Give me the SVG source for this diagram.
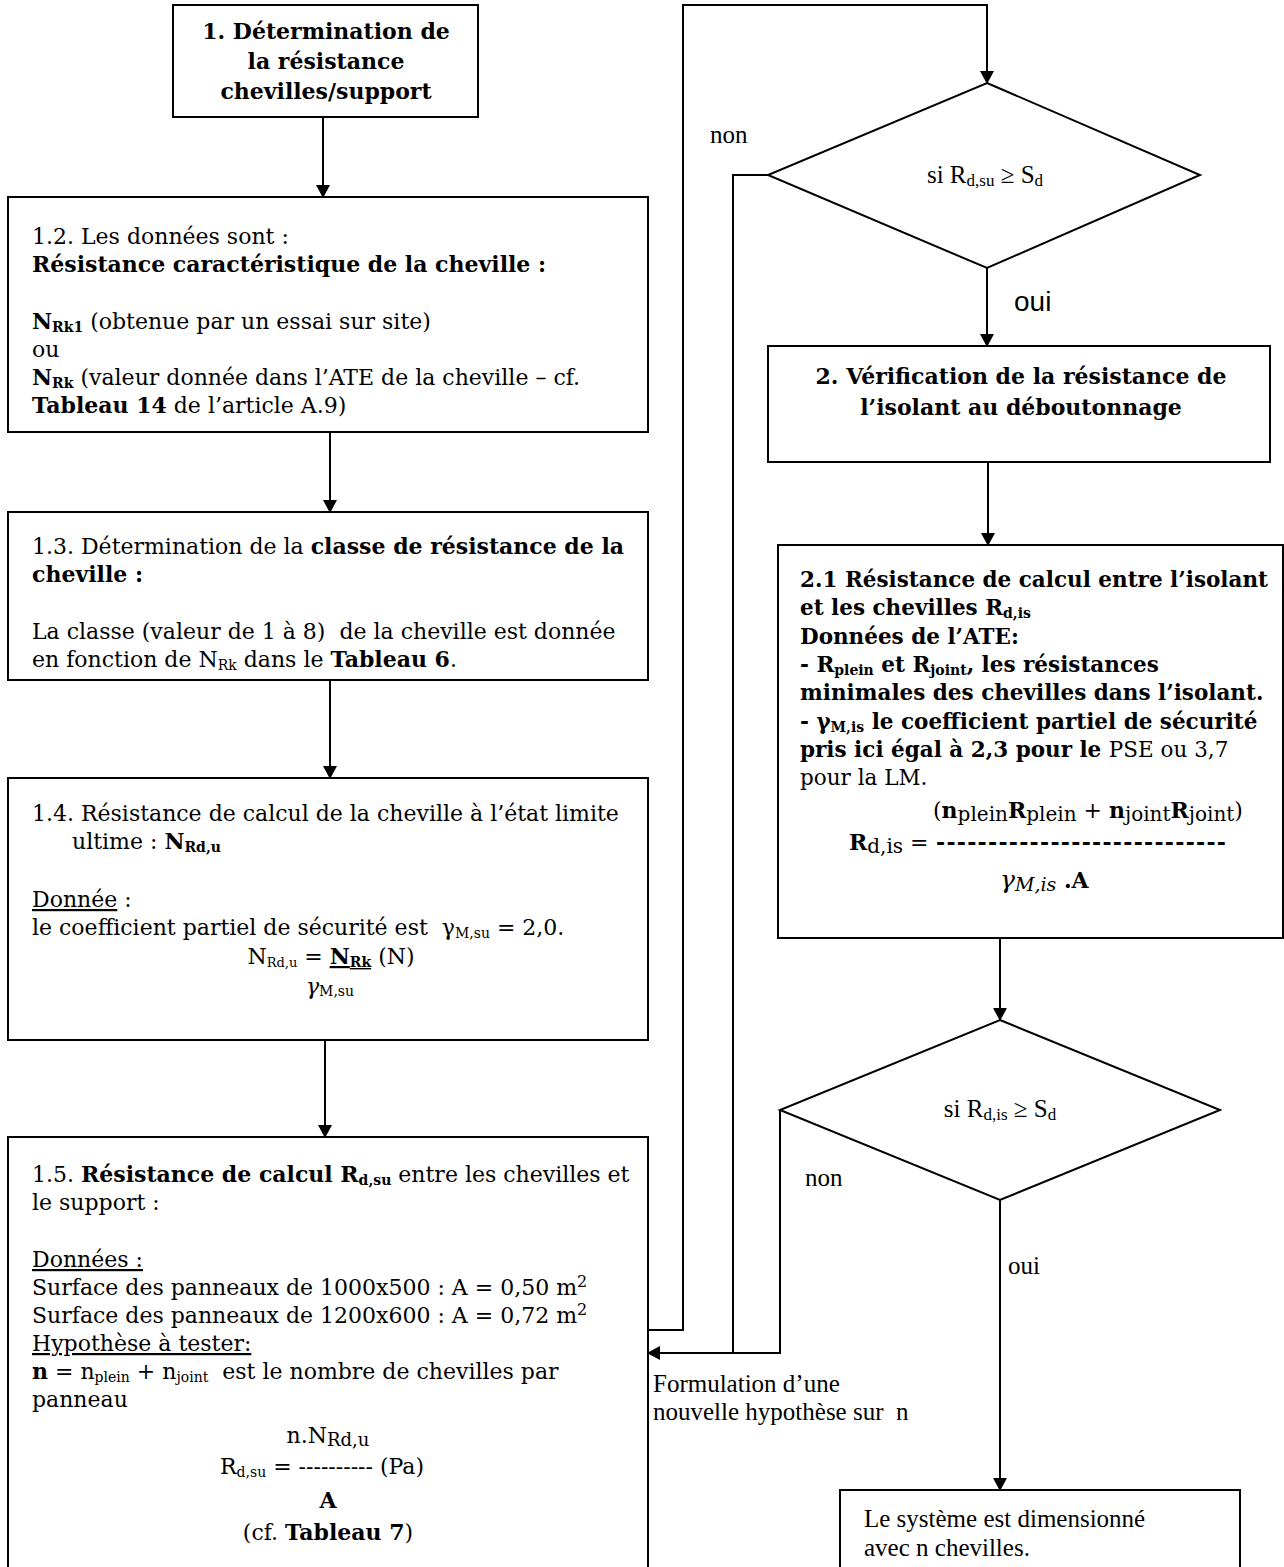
<svg xmlns="http://www.w3.org/2000/svg" width="1284" height="1567" viewBox="0 0 1284 1567">
<defs>
<marker id="ah" markerWidth="14" markerHeight="14" refX="12" refY="7" orient="auto" markerUnits="userSpaceOnUse">
<path d="M0,0 L13,7 L0,14 Z" fill="#000"/>
</marker>
<style>
.box{fill:#fff;stroke:#000;stroke-width:2}
.con{fill:none;stroke:#000;stroke-width:2}
.arr{fill:none;stroke:#000;stroke-width:2;marker-end:url(#ah)}
.t{font-family:"DejaVu Serif",serif;font-size:22px;fill:#000}
.b{font-weight:bold}
.lab{font-family:"Liberation Serif",serif;font-size:25px;fill:#000}
.sans{font-family:"Liberation Sans",sans-serif;font-size:28px;fill:#000}
.sub{font-size:14px}
.sub2{font-size:16px}
.u{text-decoration:underline}
.i{font-style:italic}
.bx{font-size:21.5px}
</style>
</defs>
<rect width="1284" height="1567" fill="#fff"/>

<g id="connectors">
<line class="arr" x1="323" y1="117" x2="323" y2="197"/>
<line class="arr" x1="330" y1="432" x2="330" y2="512"/>
<line class="arr" x1="330" y1="680" x2="330" y2="778"/>
<line class="arr" x1="325" y1="1040" x2="325" y2="1137"/>
<polyline class="arr" points="648,1330 683,1330 683,5 987,5 987,83"/>
<polyline class="con" points="768,175 733,175 733,1353"/>
<line class="arr" x1="987" y1="268" x2="987" y2="346"/>
<line class="arr" x1="988" y1="462" x2="988" y2="545"/>
<line class="arr" x1="1000" y1="938" x2="1000" y2="1020"/>
<polyline class="arr" points="780,1110 780,1353 648,1353"/>
<line class="arr" x1="1000" y1="1200" x2="1000" y2="1490"/>
<text class="lab" x="710" y="143" font-size="28">non</text>
<text class="sans" x="1014" y="311">oui</text>
<text class="lab" x="805" y="1186" font-size="27">non</text>
<text class="lab" x="1008" y="1274" font-size="27">oui</text>
<text class="lab" x="653" y="1392" font-size="22">Formulation d’une</text>
<text class="lab" x="653" y="1420" font-size="22">nouvelle hypothèse sur&#160; n</text>
</g>

<g id="n1">
<rect class="box" x="173" y="5" width="305" height="112"/>
<text class="t b" text-anchor="middle" font-size="22.5"><tspan x="326" y="39">1. Détermination de</tspan><tspan x="326" y="69">la résistance</tspan><tspan x="326" y="99">chevilles/support</tspan></text>
</g>

<g id="n12">
<rect class="box" x="8" y="197" width="640" height="235"/>
<text class="t" x="32" y="244">1.2. Les données sont :</text>
<text class="t b" x="32" y="272">Résistance caractéristique de la cheville :</text>
<text class="t" x="32" y="329"><tspan class="b">N</tspan><tspan class="b sub" dy="3">Rk1</tspan><tspan dy="-3"> (obtenue par un essai sur site)</tspan></text>
<text class="t" x="32" y="357">ou</text>
<text class="t" x="32" y="385"><tspan class="b">N</tspan><tspan class="b sub" dy="3">Rk</tspan><tspan dy="-3"> (valeur donnée dans l’ATE de la cheville – cf.</tspan></text>
<text class="t" x="32" y="413"><tspan class="b">Tableau 14</tspan> de l’article A.9)</text>
</g>

<g id="n13">
<rect class="box" x="8" y="512" width="640" height="168"/>
<text class="t" x="32" y="554">1.3. Détermination de la <tspan class="b">classe de résistance de la</tspan></text>
<text class="t b" x="32" y="582">cheville :</text>
<text class="t" x="32" y="639">La classe (valeur de 1 à 8)&#160; de la cheville est donnée</text>
<text class="t" x="32" y="667">en fonction de N<tspan class="sub" dy="3">Rk</tspan><tspan dy="-3"> dans le </tspan><tspan class="b">Tableau 6</tspan>.</text>
</g>

<g id="n14">
<rect class="box" x="8" y="778" width="640" height="262"/>
<text class="t" x="32" y="821">1.4. Résistance de calcul de la cheville à l’état limite</text>
<text class="t" x="72" y="849">ultime : <tspan class="b">N</tspan><tspan class="b sub" dy="3">Rd,u</tspan></text>
<text class="t" x="32" y="907"><tspan class="u">Donnée</tspan> :</text>
<text class="t" x="32" y="935">le coefficient partiel de sécurité est&#160; γ<tspan class="sub" dy="3">M,su</tspan><tspan dy="-3"> = 2,0.</tspan></text>
<text class="t" x="331" y="964" text-anchor="middle" font-size="20">N<tspan font-size="13" dy="3">Rd,u</tspan><tspan dy="-3"> = </tspan><tspan class="b u" font-size="22">N</tspan><tspan class="b u" font-size="14" dy="3">Rk</tspan><tspan dy="-3"> (N)</tspan></text>
<text class="t" x="330" y="994" text-anchor="middle" font-size="21"><tspan class="i">γ</tspan><tspan class="sub" dy="2">M,su</tspan></text>
</g>

<g id="n15">
<rect class="box" x="8" y="1137" width="640" height="440"/>
<text class="t" x="32" y="1182">1.5. <tspan class="b">Résistance de calcul R</tspan><tspan class="b sub" dy="3">d,su</tspan><tspan dy="-3"> entre les chevilles et</tspan></text>
<text class="t" x="32" y="1210">le support :</text>
<text class="t" x="32" y="1267"><tspan class="u">Données : </tspan></text>
<text class="t" x="32" y="1295">Surface des panneaux de 1000x500 : A = 0,50 m<tspan class="sub2" dy="-8">2</tspan></text>
<text class="t" x="32" y="1323">Surface des panneaux de 1200x600 : A = 0,72 m<tspan class="sub2" dy="-8">2</tspan></text>
<text class="t" x="32" y="1351"><tspan class="u">Hypothèse à tester:</tspan></text>
<text class="t" x="32" y="1379"><tspan class="b">n</tspan> = n<tspan class="sub" dy="3">plein</tspan><tspan dy="-3"> + n</tspan><tspan class="sub" dy="3">joint</tspan><tspan dy="-3">&#160; est le nombre de chevilles par</tspan></text>
<text class="t" x="32" y="1407">panneau</text>
<text class="t" x="328" y="1443" text-anchor="middle" font-size="25">n.N<tspan font-size="18" dy="3">Rd,u</tspan></text>
<text class="t" x="322" y="1474" text-anchor="middle">R<tspan class="sub" dy="3">d,su</tspan><tspan dy="-3"> = ---------- (Pa)</tspan></text>
<text class="t b" x="328" y="1508" text-anchor="middle" font-size="26">A</text>
<text class="t" x="328" y="1540" text-anchor="middle">(cf. <tspan class="b">Tableau 7</tspan>)</text>
</g>

<g id="d1">
<polygon class="box" points="987,83 1200,175 987,268 768,175"/>
<text class="lab" x="985" y="183" text-anchor="middle">si R<tspan font-size="17" dy="3">d,su</tspan><tspan dy="-3"> ≥ S</tspan><tspan font-size="17" dy="3">d</tspan></text>
</g>

<g id="n2">
<rect class="box" x="768" y="346" width="502" height="116"/>
<text class="t b" text-anchor="middle" font-size="22.5"><tspan x="1021" y="384">2. Vérification de la résistance de</tspan><tspan x="1021" y="415">l’isolant au déboutonnage</tspan></text>
</g>

<g id="n21">
<rect class="box" x="778" y="545" width="505" height="393"/>
<text class="t b bx" x="800" y="587">2.1 Résistance de calcul entre l’isolant</text>
<text class="t b bx" x="800" y="615">et les chevilles R<tspan class="sub" dy="3">d,is</tspan></text>
<text class="t b bx" x="800" y="644">Données de l’ATE:</text>
<text class="t b bx" x="800" y="672">- R<tspan class="sub" dy="3">plein</tspan><tspan dy="-3"> et R</tspan><tspan class="sub" dy="3">joint</tspan><tspan dy="-3">, les résistances</tspan></text>
<text class="t b bx" x="800" y="700">minimales des chevilles dans l’isolant.</text>
<text class="t b bx" x="800" y="729">- γ<tspan class="sub" dy="3">M,is</tspan><tspan dy="-3"> le coefficient partiel de sécurité</tspan></text>
<text class="t bx" x="800" y="757"><tspan class="b">pris ici égal à 2,3 pour le </tspan>PSE ou 3,7</text>
<text class="t bx" x="800" y="785">pour la LM.</text>
<text class="t" x="933" y="818" font-size="25">(<tspan class="b">n</tspan><tspan font-size="20" dy="3">plein</tspan><tspan class="b" dy="-3">R</tspan><tspan font-size="20" dy="3">plein</tspan><tspan dy="-3"> + </tspan><tspan class="b">n</tspan><tspan font-size="20" dy="3">joint</tspan><tspan class="b" dy="-3">R</tspan><tspan font-size="20" dy="3">joint</tspan><tspan dy="-3">)</tspan></text>
<text class="t" x="849" y="850" font-size="25"><tspan class="b">R</tspan><tspan font-size="20" dy="3">d,is</tspan><tspan dy="-3"> = </tspan></text>
<text class="t b" x="936" y="850" font-size="22" textLength="290" lengthAdjust="spacing">----------------------------</text>
<text class="t" x="1000" y="888" font-size="30"><tspan class="i" font-size="25">γ</tspan><tspan class="i" font-size="19" dy="3">M,is</tspan><tspan class="b" dy="-3"> .A</tspan></text>
</g>

<g id="d2">
<polygon class="box" points="1000,1020 1220,1110 1000,1200 780,1110"/>
<text class="lab" x="1000" y="1117" text-anchor="middle">si R<tspan font-size="17" dy="3">d,is</tspan><tspan dy="-3"> ≥ S</tspan><tspan font-size="17" dy="3">d</tspan></text>
</g>

<g id="n3">
<rect class="box" x="840" y="1490" width="400" height="90"/>
<text class="lab" x="864" y="1527">Le système est dimensionné</text>
<text class="lab" x="864" y="1556">avec n chevilles.</text>
</g>
</svg>
